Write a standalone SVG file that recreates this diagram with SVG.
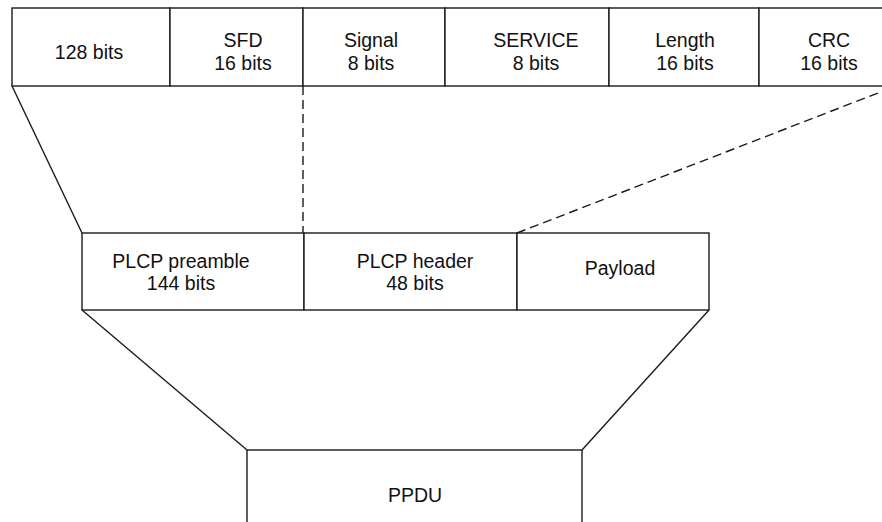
<svg xmlns="http://www.w3.org/2000/svg" width="882" height="522" viewBox="0 0 882 522">
<style>
.b{fill:#fff;stroke:#1a1a1a;stroke-width:1.4}
.l{fill:none;stroke:#1a1a1a;stroke-width:1.4}
.d{fill:none;stroke:#1a1a1a;stroke-width:1.4;stroke-dasharray:9 5}
text{font-family:"Liberation Sans",Arial,sans-serif;font-size:19.5px;fill:#111;text-anchor:middle}
</style>
<rect width="882" height="522" fill="#fff"/>
<g id="connectors">
<line class="l" x1="12" y1="86" x2="82" y2="233"/>
<line class="d" x1="303" y1="86" x2="303" y2="233"/>
<line class="d" x1="517" y1="233" x2="896" y2="86"/>
<line class="l" x1="82" y1="310" x2="247" y2="450"/>
<line class="l" x1="709" y1="310" x2="582" y2="450"/>
</g>
<g id="f128"><rect class="b" x="12" y="8" width="158" height="78"/><text x="89" y="59">128 bits</text></g>
<g id="sfd"><rect class="b" x="170" y="8" width="133" height="78"/><text x="243" y="47">SFD</text><text x="243" y="70">16 bits</text></g>
<g id="signal"><rect class="b" x="303" y="8" width="142" height="78"/><text x="371" y="47">Signal</text><text x="371" y="70">8 bits</text></g>
<g id="service"><rect class="b" x="445" y="8" width="164" height="78"/><text x="536" y="47">SERVICE</text><text x="536" y="70">8 bits</text></g>
<g id="length"><rect class="b" x="609" y="8" width="150" height="78"/><text x="685" y="47">Length</text><text x="685" y="70">16 bits</text></g>
<g id="crc"><rect class="b" x="759" y="8" width="150" height="78"/><text x="829" y="47">CRC</text><text x="829" y="70">16 bits</text></g>
<g id="preamble"><rect class="b" x="82" y="233" width="222" height="77"/><text x="181" y="268">PLCP preamble</text><text x="181" y="290">144 bits</text></g>
<g id="header"><rect class="b" x="304" y="233" width="213" height="77"/><text x="415" y="268">PLCP header</text><text x="415" y="290">48 bits</text></g>
<g id="payload"><rect class="b" x="517" y="233" width="192" height="77"/><text x="620" y="275">Payload</text></g>
<g id="ppdu"><rect class="b" x="247" y="450" width="335" height="90"/><text x="415" y="502">PPDU</text></g>
</svg>
